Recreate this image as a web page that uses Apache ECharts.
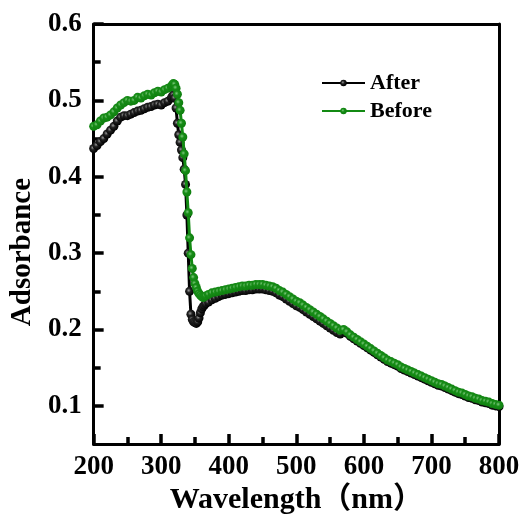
<!DOCTYPE html>
<html>
<head>
<meta charset="utf-8">
<script src="https://cdn.jsdelivr.net/npm/echarts@6/dist/echarts.min.js"></script>
<style>html,body{margin:0;padding:0;background:#fff}#c{width:525px;height:520px}</style>
</head>
<body>
<div id="c"></div>
<script>
// Wavelength (nm)
var wavelength = [
  200,205,210,215,220,225,230,235,240,245,250,255,260,265,270,275,280,285,290,295,300,305,310,315,
  316,318,320,322,324,326,328,330,332,334,336,338,340,342,344,346,348,350,352,354,356,358,360,362,364,366,
  370,375,380,385,390,395,400,405,410,415,
  420,425,430,435,440,445,450,455,460,465,
  470,475,480,485,490,495,500,505,510,515,
  520,525,530,535,540,545,550,555,560,565,
  570,575,580,585,590,595,600,605,610,615,
  620,625,630,635,640,645,650,655,660,665,
  670,675,680,685,690,695,700,705,710,715,
  720,725,730,735,740,745,750,755,760,765,
  770,775,780,785,790,795,800
];
// Absorbance after
var after = [
  0.437,0.441,0.446,0.450,0.456,0.461,0.466,0.473,0.478,0.480,0.480,0.482,0.484,0.486,0.487,0.489,0.491,0.492,0.494,0.495,0.494,0.497,0.499,0.503,
  0.505,0.507,0.503,0.490,0.470,0.455,0.445,0.435,0.425,0.410,0.390,0.350,0.300,0.250,0.220,0.213,0.210,0.209,0.208,0.210,0.215,0.222,0.227,0.230,0.232,0.234,
  0.236,0.239,0.241,0.243,0.245,0.246,0.247,0.248,0.249,0.250,
  0.251,0.251,0.252,0.252,0.253,0.253,0.253,0.252,0.251,0.250,
  0.248,0.245,0.243,0.240,0.237,0.234,0.231,0.229,0.226,0.223,
  0.220,0.217,0.214,0.211,0.208,0.205,0.202,0.199,0.196,0.194,
  0.198,0.195,0.191,0.188,0.185,0.182,0.179,0.176,0.173,0.170,
  0.167,0.164,0.161,0.158,0.156,0.154,0.152,0.149,0.147,0.145,
  0.143,0.141,0.139,0.137,0.135,0.133,0.131,0.129,0.127,0.126,
  0.124,0.122,0.120,0.118,0.116,0.115,0.113,0.111,0.110,0.108,
  0.107,0.105,0.104,0.103,0.101,0.100,0.099
];
// Absorbance before
var before = [
  0.466,0.468,0.473,0.477,0.478,0.481,0.485,0.490,0.494,0.497,0.500,0.499,0.500,0.504,0.503,0.506,0.508,0.507,0.510,0.512,0.511,0.514,0.516,0.518,
  0.520,0.522,0.521,0.516,0.508,0.497,0.487,0.470,0.452,0.430,0.408,0.380,0.353,0.320,0.298,0.280,0.268,0.260,0.255,0.250,0.247,0.245,0.243,0.242,0.243,0.244,
  0.246,0.248,0.249,0.250,0.251,0.252,0.253,0.254,0.255,0.256,
  0.257,0.257,0.258,0.258,0.259,0.259,0.259,0.258,0.257,0.256,
  0.254,0.251,0.249,0.246,0.243,0.240,0.237,0.235,0.232,0.229,
  0.226,0.223,0.220,0.217,0.214,0.211,0.208,0.205,0.202,0.199,
  0.200,0.197,0.193,0.190,0.187,0.184,0.181,0.178,0.175,0.172,
  0.169,0.166,0.163,0.160,0.158,0.156,0.154,0.151,0.149,0.147,
  0.145,0.143,0.141,0.139,0.137,0.135,0.133,0.131,0.129,0.128,
  0.126,0.124,0.122,0.120,0.118,0.117,0.115,0.113,0.112,0.110,
  0.109,0.107,0.106,0.105,0.103,0.102,0.101
];
var seriesNames = ['After', 'Before'];
var yMajorTicks = [0.1, 0.2, 0.3, 0.4, 0.5, 0.6];
var yMinorTicks = [0.15, 0.25, 0.35, 0.45, 0.55];

function pairs(xs, ys) {
  var out = [];
  for (var i = 0; i < xs.length && i < ys.length; i++) out.push([xs[i], ys[i]]);
  return out;
}
function ball(edge, mid, center) {
  return new echarts.graphic.RadialGradient(0.4, 0.4, 0.6, [
    {offset: 0, color: center},
    {offset: 0.4, color: mid},
    {offset: 1, color: edge}
  ]);
}
var FONT = "'Liberation Serif','Times New Roman','Noto Sans CJK SC',serif";
var TICK = '#000';
function lineSt(c, w) { return {color: c, width: w || 3}; }
var chart = echarts.init(document.getElementById('c'), null, {renderer: 'canvas'});
chart.setOption({
  animation: false,
  backgroundColor: '#fff',
  grid: {left: 93, right: 26, top: 24, bottom: 67, show: false},
  legend: {
    orient: 'vertical', left: 316, top: 67, itemWidth: 43, itemHeight: 8, itemGap: 6,
    textStyle: {fontFamily: FONT, fontWeight: 'bold', fontSize: 22, color: '#000'},
    data: seriesNames
  },
  xAxis: [{
    type: 'value', min: 200, max: 800, interval: 100, position: 'bottom',
    name: 'Wavelength（nm）', nameLocation: 'middle', nameGap: 29,
    nameTextStyle: {fontFamily: FONT, fontWeight: 'bold', fontSize: 30, color: '#000'},
    axisLine: {show: true, onZero: false, lineStyle: lineSt('#000')},
    axisTick: {show: true, inside: true, length: 10, lineStyle: lineSt(TICK, 3.5)},
    minorTick: {show: true, splitNumber: 2, length: 7, lineStyle: lineSt(TICK, 3.5)},
    splitLine: {show: false},
    axisLabel: {fontFamily: FONT, fontWeight: 'bold', fontSize: 27, color: '#000', margin: 9}
  }, {
    type: 'value', min: 200, max: 800, interval: 100, position: 'top',
    axisLine: {show: true, onZero: false, lineStyle: lineSt('#000')},
    axisTick: {show: false}, axisLabel: {show: false}, splitLine: {show: false}
  }],
  yAxis: [{
    type: 'value', min: 0.05, max: 0.6, position: 'left',
    name: 'Adsorbance', nameLocation: 'middle', nameGap: 43,
    nameTextStyle: {fontFamily: FONT, fontWeight: 'bold', fontSize: 29, color: '#000', padding: [0, 36, 0, 0]},
    axisLine: {show: true, onZero: false, lineStyle: lineSt('#000')},
    axisTick: {show: true, inside: true, length: 10, customValues: yMajorTicks, lineStyle: lineSt(TICK, 3.5)},
    splitLine: {show: false},
    axisLabel: {fontFamily: FONT, fontWeight: 'bold', fontSize: 27, color: '#000', margin: 12,
      customValues: yMajorTicks, formatter: function (v) { return v.toFixed(1); }}
  }, {
    type: 'value', min: 0.05, max: 0.6, position: 'left', offset: 0,
    axisLine: {show: false},
    axisTick: {show: true, inside: true, length: 7, customValues: yMinorTicks, lineStyle: lineSt(TICK, 3.5)},
    axisLabel: {show: false},
    splitLine: {show: false}
  }, {
    type: 'value', min: 0.05, max: 0.6, position: 'right', offset: 0,
    axisLine: {show: true, onZero: false, lineStyle: lineSt('#000')},
    axisTick: {show: false}, axisLabel: {show: false}, splitLine: {show: false}
  }],
  series: [{
    name: seriesNames[0], type: 'line', xAxisIndex: 0, yAxisIndex: 0,
    data: pairs(wavelength, after),
    symbol: 'circle', symbolSize: 9,
    lineStyle: {color: '#000', width: 3},
    itemStyle: {color: ball('#000000', '#222222', '#9a9a9a')},
    z: 2
  }, {
    name: seriesNames[1], type: 'line', xAxisIndex: 0, yAxisIndex: 0,
    data: pairs(wavelength, before),
    symbol: 'circle', symbolSize: 9,
    lineStyle: {color: '#138a13', width: 3},
    itemStyle: {color: ball('#0e7f0e', '#178c17', '#7cc87c')},
    z: 3
  }]
});
</script>
</body>
</html>
